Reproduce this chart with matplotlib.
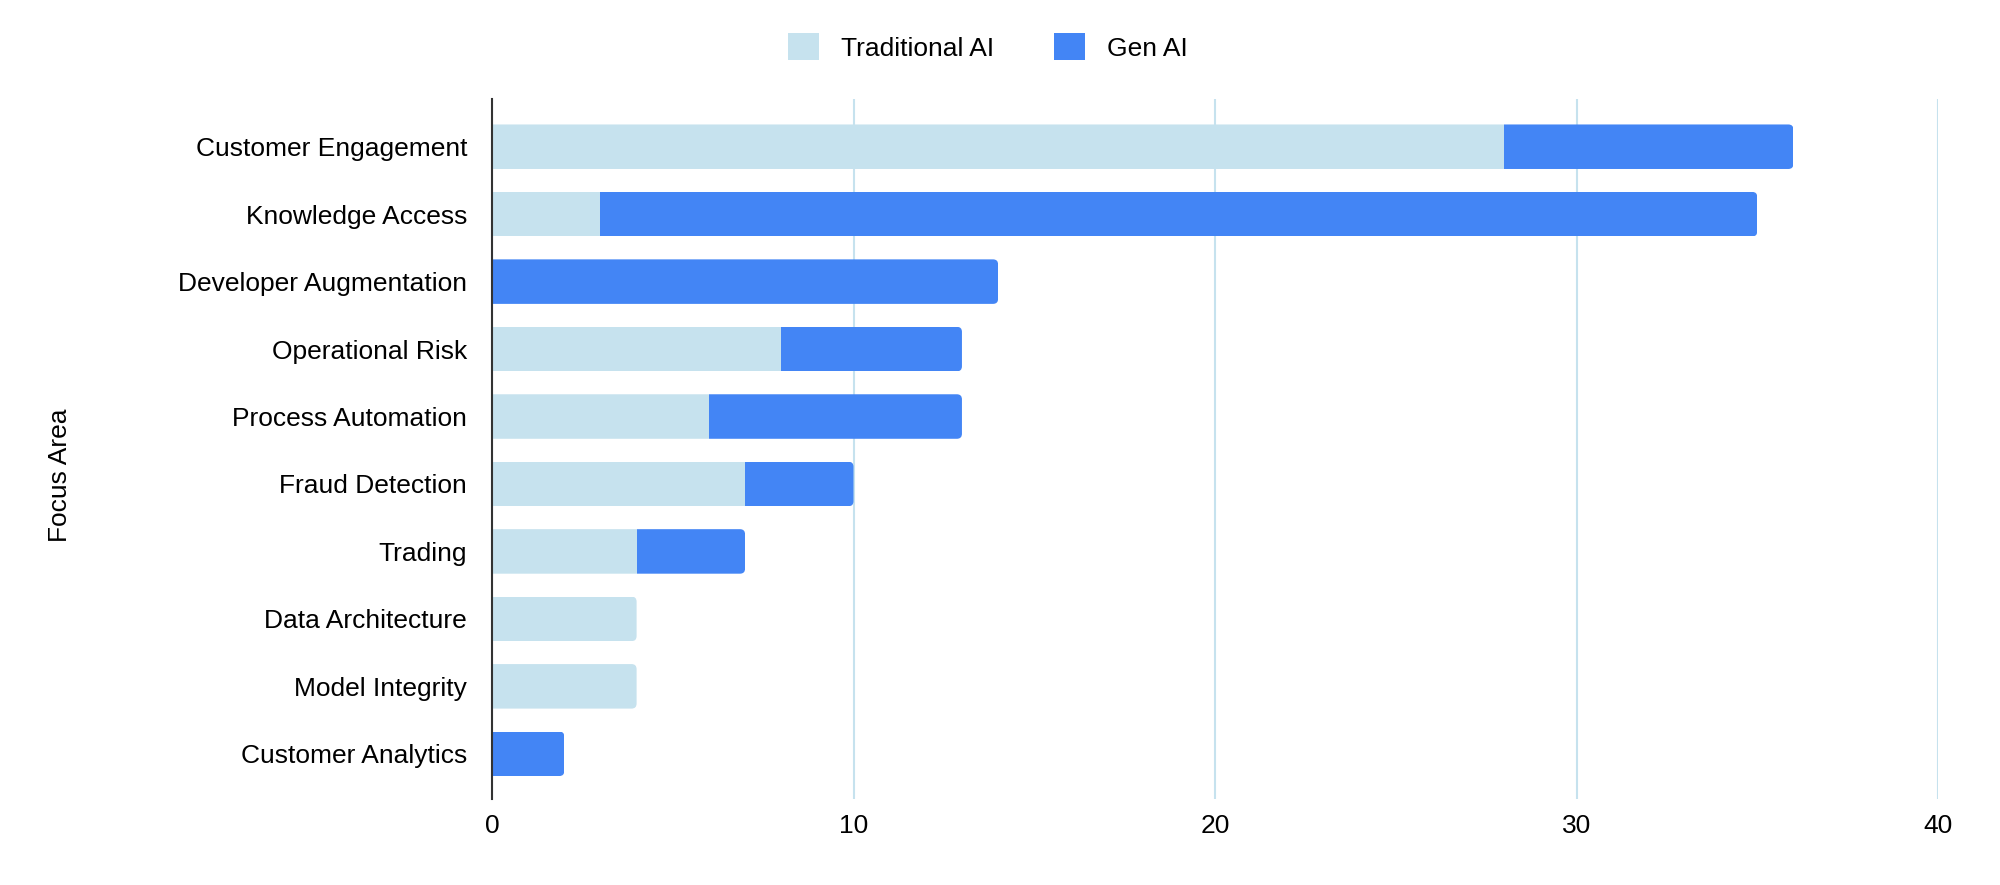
import matplotlib.pyplot as plt
from matplotlib.patches import FancyBboxPatch

# data
focus_areas = ["Customer Engagement", "Knowledge Access", "Developer Augmentation",
               "Operational Risk", "Process Automation", "Fraud Detection", "Trading",
               "Data Architecture", "Model Integrity", "Customer Analytics"]
traditional_ai = [28, 3, 0, 8, 6, 7, 4, 4, 4, 0]
gen_ai = [8, 32, 14, 5, 7, 3, 3, 0, 0, 2]
x_ticks = [0, 10, 20, 30, 40]

TRAD_COLOR = "#c6e2ee"
GEN_COLOR = "#4385f5"
GRID_COLOR = "#c6e2ee"
BAR_H = 0.66

plt.rcParams['font.family'] = ['Liberation Sans', 'DejaVu Sans']

fig = plt.figure(figsize=(20, 8.85), dpi=100)
ax = fig.add_axes([0.246, 0.0972, 0.723, 0.7909])

ypos = list(range(len(focus_areas)))
trad_bars = ax.barh(ypos, traditional_ai, height=BAR_H, color=TRAD_COLOR,
                    label="Traditional AI", zorder=3)
gen_bars = ax.barh(ypos, gen_ai, height=BAR_H, left=traditional_ai, color=GEN_COLOR,
                   label="Gen AI", zorder=3)

ax.set_xlim(0, 40)
ax.set_ylim(9.67, -0.707)

# round the right end of each stacked bar (left corners pushed outside the axes)
rx, ry = 0.14, 0.075
for tb, gb in zip(trad_bars, gen_bars):
    total = gb.get_x() + gb.get_width()
    clip = FancyBboxPatch((-rx, tb.get_y()), total + rx, tb.get_height(),
                          boxstyle="round,pad=0,rounding_size=%g" % rx,
                          mutation_aspect=ry / rx, transform=ax.transData)
    tb.set_clip_path(clip)
    gb.set_clip_path(clip)

ax.set_xticks(x_ticks)
ax.set_yticks(ypos)
ax.set_yticklabels(focus_areas)
ax.tick_params(axis='x', length=0, pad=11, labelsize=19)
ax.tick_params(axis='y', length=0, pad=18, labelsize=19)

ax.grid(axis='x', color=GRID_COLOR, linewidth=1.5, zorder=0)
ax.set_axisbelow(True)
for side in ['top', 'right', 'bottom']:
    ax.spines[side].set_visible(False)
ax.spines['left'].set_color('#333333')
ax.spines['left'].set_linewidth(1.5)
ax.spines['left'].set_zorder(4)

fig.text(0.03, 0.463, "Focus Area", rotation=90, fontsize=19, ha='center', va='center')

fig.legend(loc='center', bbox_to_anchor=(0.494, 0.947), ncol=2, frameon=False, fontsize=19,
           handlelength=1.17, handleheight=1.17, handletextpad=0.83, columnspacing=2.27)

fig.savefig("out.png", dpi=100)
